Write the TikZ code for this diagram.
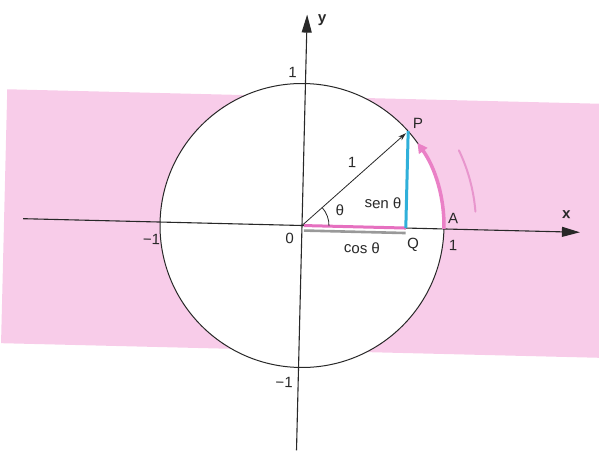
\documentclass[tikz,border=0pt]{standalone}
\usepackage{fontspec}
\setmainfont{Liberation Sans}
\usetikzlibrary{arrows.meta}
\definecolor{band}{RGB}{248,204,233}
\definecolor{arcpink}{RGB}{234,128,198}
\definecolor{segpink}{RGB}{230,112,192}
\definecolor{seblue}{RGB}{48,176,218}
\definecolor{faintpink}{RGB}{232,150,205}
\definecolor{ink}{RGB}{40,40,40}
\begin{document}
\begin{tikzpicture}[x=1pt,y=1pt,
  lbl/.style={font=\fontsize{15}{17}\selectfont, text=ink, inner sep=0pt, transform shape},
  axislbl/.style={font=\fontsize{15}{17}\selectfont\bfseries, text=ink, inner sep=0pt, transform shape},
  axisline/.style={ink, line width=1.1pt, -{Triangle[length=18pt,width=10pt]}}]
\useasboundingbox (-302,-232.5) rectangle (297,225.5);
\begin{scope}[rotate=-1.4]
  \fill[band] (-298,-125) rectangle (330,129);
  \fill[white] (0,0) circle (142);
  \coordinate (O) at (0,0);
  \coordinate (P) at (43:142);
  \coordinate (Q) at (P |- O);
  \coordinate (A) at (142,0);
  \coordinate (xl) at (-279,0);
  \coordinate (xr) at (278,0);
  \coordinate (yb) at (0,-225);
  \coordinate (yt) at (0,211);
  \coordinate (fa) at (6:174);
  % circle and axes
  \draw[ink, line width=1pt] (O) circle (142);
  \draw[axisline] (xl) -- (xr);
  \draw[axisline] (yb) -- (yt);
  % segments
  \draw[gray!80, line width=2.6pt] ([shift={(2pt,-5pt)}]O) -- ([yshift=-5pt]Q);
  \draw[segpink, line width=3pt] ([xshift=2pt]O) -- (Q);
  \draw[seblue, line width=3pt] (Q) -- (P);
  \draw[ink, line width=0.8pt, shorten >=3pt, -{Stealth[length=8pt,width=5pt]}] (O) -- (P);
  \draw[ink, line width=0.8pt] (27,0) arc (0:43:27);
  % arcs
  \draw[arcpink, line width=3.5pt, -{Triangle[length=10pt,width=10pt]}] (A) arc (0:37:142);
  \draw[faintpink, line width=2pt, line cap=round] (fa) arc (6:27:174);
  % labels
  \node[axislbl] (ylbl) at (15,206) {y};
  \node[axislbl] (xlbl) at (264,17) {x};
  \node[lbl] (one1) at (-13,153) {1};
  \node[lbl] (mone1) at (-150,-18) {−1};
  \node[lbl] (olbl) at (-12,-13) {0};
  \node[lbl] (mone2) at (-14,-157) {−1};
  \node[lbl] (plbl) at (113.5,105) {P};
  \node[lbl] (rlbl) at (48.5,64) {1};
  \node[lbl] (sen) at (80.5,24.5) {sen θ};
  \node[lbl] (th) at (37.6,16.4) {θ};
  \node[lbl] (cos) at (60.5,-21) {cos θ};
  \node[lbl] (qlbl) at (111.5,-17) {Q};
  \node[lbl] (albl) at (151,11) {A};
  \node[lbl] (one2) at (151.5,-16) {1};
\end{scope}
\end{tikzpicture}
\end{document}
